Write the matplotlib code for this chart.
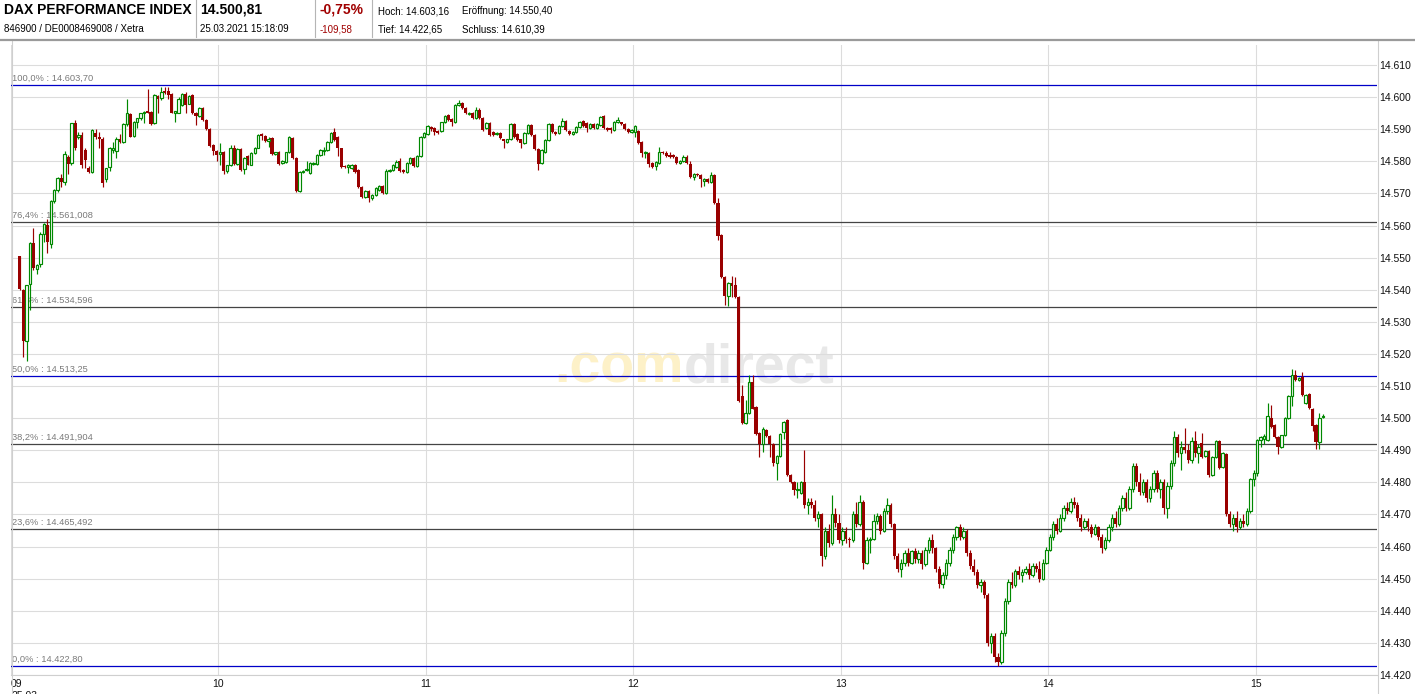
import numpy as np
import matplotlib
matplotlib.use("Agg")
import matplotlib.pyplot as plt
from matplotlib.lines import Line2D

plt.rcParams['font.family'] = ['Liberation Sans', 'DejaVu Sans']

W, H = 1415, 694
BASE = 14400          # values below are points above 14.400
FIRST_MINUTE = 2      # first 1-minute candle is 09:02

# 1-minute candles, 09:02 ... 15:19 (points above BASE)
opens = [
    150.4, 139.8, 124.1, 141.8, 154.7, 146.4, 147.9, 157.5, 160.2, 154.1,
    167.7, 171.1, 174.7, 173.7, 181.2, 179.4, 191.8, 187.5, 188.2, 183.5,
    177.8, 176.8, 188.7, 187.7, 186.8, 174.4, 178.1, 183.5, 183.3, 187.1,
    186.1, 191.6, 194.7, 187.9, 192.1, 193.4, 194.9, 195.7, 195.5, 191.8,
    200.4, 199.6, 202.0, 202.0, 201.0, 195.2, 195.2, 197.5, 201.0, 198.0,
    200.7, 195.0, 194.1, 196.5, 192.9, 190.0, 185.0, 183.2, 182.2, 182.8,
    177.0, 178.8, 184.2, 179.3, 183.8, 177.5, 181.7, 179.0, 182.5, 184.2,
    188.5, 188.0, 186.3, 187.4, 182.3, 182.8, 179.6, 179.9, 182.8, 187.2,
    181.1, 170.8, 176.6, 177.2, 176.5, 179.1, 179.2, 182.0, 183.1, 183.5,
    186.1, 189.2, 187.7, 184.0, 178.6, 178.1, 178.0, 178.8, 177.3, 172.1,
    169.0, 170.8, 168.7, 169.5, 171.2, 172.3, 170.2, 176.9, 177.3, 178.3,
    180.1, 177.3, 176.6, 179.4, 181.1, 178.5, 181.6, 187.5, 188.5, 190.8,
    190.3, 189.5, 189.5, 192.1, 194.4, 193.2, 192.3, 197.5, 198.1, 196.7,
    194.6, 195.2, 193.4, 196.0, 193.4, 190.3, 191.8, 189.2, 188.4, 188.9,
    186.8, 186.1, 186.8, 191.5, 188.4, 186.8, 185.6, 188.7, 191.3, 188.2,
    183.7, 179.4, 183.0, 186.6, 191.5, 189.2, 188.7, 191.1, 192.6, 189.4,
    188.4, 189.2, 190.8, 192.6, 191.8, 190.3, 191.5, 190.3, 191.3, 194.2,
    190.5, 190.3, 189.8, 192.3, 192.1, 191.5, 190.1, 189.2, 189.2, 189.5,
    186.1, 182.5, 182.5, 179.6, 178.5, 179.6, 183.0, 182.7, 182.0, 181.9,
    181.4, 179.6, 180.2, 181.4, 179.2, 175.2, 176.0, 175.7, 174.0, 174.4,
    173.7, 175.7, 167.1, 157.0, 144.1, 138.0, 142.0, 141.5, 137.8, 106.9,
    98.6, 101.7, 111.3, 103.5, 95.3, 92.0, 96.3, 94.4, 92.0, 86.1,
    88.2, 95.7, 99.4, 82.3, 80.0, 77.5, 76.8, 80.2, 73.0, 74.0,
    73.0, 69.0, 70.0, 57.0, 65.0, 61.0, 70.0, 67.5, 62.0, 65.0,
    62.5, 62.0, 70.0, 67.0, 74.0, 55.0, 62.0, 62.5, 68.0, 69.5,
    65.0, 71.0, 73.0, 67.0, 57.0, 53.0, 55.0, 58.0, 55.0, 58.5,
    56.0, 58.0, 54.5, 59.0, 62.0, 59.5, 53.0, 48.5, 51.0, 55.0,
    59.0, 63.0, 66.0, 63.0, 65.0, 58.0, 54.0, 52.0, 48.0, 49.0,
    45.0, 30.0, 32.0, 25.5, 24.0, 33.0, 43.0, 49.0, 48.0, 52.5,
    51.0, 52.0, 53.0, 51.0, 54.0, 53.0, 50.0, 55.0, 59.0, 63.0,
    67.0, 65.0, 69.0, 72.0, 71.0, 74.0, 73.0, 69.0, 66.0, 68.0,
    66.0, 64.0, 66.0, 63.0, 59.5, 62.0, 66.0, 69.0, 67.0, 72.0,
    75.0, 72.0, 78.0, 85.0, 80.0, 77.0, 80.0, 75.0, 78.0, 83.0,
    78.0, 80.0, 72.0, 79.0, 86.0, 94.0, 89.0, 91.0, 90.0, 87.0,
    93.0, 89.0, 92.3, 88.2, 89.9, 82.3, 88.0, 92.9, 84.8, 88.8,
    70.0, 67.0, 69.0, 66.0, 68.0, 67.0, 71.0, 81.0, 83.0, 93.2,
    93.5, 93.2, 100.1, 97.9, 94.2, 90.9, 94.6, 100.0, 106.9, 113.4,
    111.9, 112.9, 104.6, 107.5, 102.8, 97.9, 92.7, 100.3,
]
highs = [
    150.6, 140.2, 141.5, 155.0, 159.3, 148.0, 158.0, 160.8, 162.0, 168.0,
    171.5, 175.0, 176.0, 183.2, 182.0, 192.0, 192.9, 189.0, 189.0, 184.0,
    178.5, 190.0, 190.0, 189.2, 187.5, 178.0, 184.5, 186.0, 187.5, 188.5,
    192.0, 199.4, 195.0, 192.5, 193.6, 195.2, 195.6, 202.5, 195.8, 201.0,
    200.8, 203.0, 203.2, 203.0, 201.3, 195.7, 200.0, 201.2, 201.7, 200.6,
    201.0, 195.3, 196.8, 196.8, 193.2, 190.3, 185.3, 183.5, 185.6, 183.1,
    179.0, 185.0, 185.0, 184.0, 184.1, 181.3, 182.0, 182.8, 184.5, 188.5,
    188.8, 188.3, 187.5, 187.7, 183.0, 183.1, 180.4, 183.0, 187.8, 187.5,
    181.4, 176.9, 177.4, 180.0, 179.7, 179.9, 182.3, 183.8, 184.6, 186.4,
    189.0, 190.3, 188.0, 184.3, 178.9, 179.1, 179.3, 179.1, 177.6, 172.4,
    171.1, 171.1, 169.8, 171.9, 172.6, 172.6, 177.5, 177.7, 179.1, 180.4,
    181.0, 177.6, 179.7, 181.4, 181.4, 181.9, 187.8, 189.0, 191.4, 191.1,
    190.6, 189.8, 192.4, 194.5, 194.7, 193.5, 197.8, 199.1, 198.4, 197.0,
    195.4, 195.5, 197.0, 196.5, 193.7, 192.1, 192.1, 189.5, 189.2, 189.2,
    187.1, 187.1, 191.8, 191.8, 188.7, 187.1, 189.0, 191.6, 191.6, 188.5,
    184.0, 183.8, 186.9, 191.8, 191.8, 189.5, 191.4, 193.4, 192.9, 189.7,
    189.3, 191.1, 192.6, 192.9, 192.1, 191.8, 191.8, 191.9, 194.2, 194.5,
    190.8, 190.6, 192.6, 193.8, 192.4, 191.8, 190.4, 190.0, 191.4, 189.8,
    186.4, 183.2, 182.8, 179.9, 180.2, 184.6, 183.3, 183.3, 183.0, 182.2,
    181.7, 180.5, 181.9, 181.9, 180.0, 176.3, 176.3, 176.0, 174.7, 174.7,
    176.8, 176.0, 168.5, 157.3, 144.4, 142.3, 144.3, 144.0, 138.1, 110.3,
    105.6, 113.4, 113.4, 103.8, 95.6, 97.3, 96.6, 94.7, 92.3, 88.5,
    95.4, 99.2, 99.7, 82.6, 80.5, 80.0, 80.5, 90.0, 75.0, 75.0,
    74.5, 71.0, 70.5, 66.0, 67.0, 76.0, 72.0, 70.0, 66.0, 66.0,
    63.0, 71.0, 74.0, 76.0, 74.5, 63.0, 63.0, 70.0, 70.5, 70.0,
    72.0, 75.0, 73.5, 67.5, 58.0, 56.0, 59.0, 59.5, 59.0, 59.5,
    59.0, 59.0, 60.0, 63.0, 64.0, 60.0, 54.0, 52.0, 56.0, 60.0,
    64.0, 66.5, 67.0, 66.0, 65.5, 59.0, 56.0, 53.0, 50.0, 49.5,
    45.5, 33.0, 33.0, 27.0, 34.0, 44.0, 50.0, 52.0, 53.0, 54.0,
    53.0, 54.0, 55.0, 55.0, 55.0, 55.5, 56.0, 60.0, 64.0, 68.0,
    69.0, 70.0, 73.0, 74.0, 75.0, 75.5, 74.0, 70.0, 69.0, 69.0,
    67.0, 67.0, 66.5, 64.0, 63.0, 67.0, 70.0, 71.0, 73.0, 76.0,
    77.0, 79.0, 86.0, 86.0, 83.0, 81.0, 81.0, 79.0, 84.0, 84.0,
    81.0, 81.0, 80.0, 87.0, 96.0, 95.0, 93.0, 97.0, 92.0, 94.0,
    96.0, 92.0, 95.4, 90.2, 90.2, 88.2, 93.2, 93.2, 89.4, 89.1,
    71.0, 70.0, 71.0, 69.0, 70.0, 72.0, 81.5, 84.0, 93.5, 94.5,
    95.0, 104.8, 104.1, 98.2, 94.5, 94.9, 100.3, 107.2, 115.2, 115.0,
    112.9, 114.3, 107.5, 107.8, 103.1, 98.2, 101.7, 101.3,
]
lows = [
    140.0, 119.1, 117.9, 133.7, 146.0, 145.0, 147.0, 155.0, 151.3, 153.0,
    167.0, 170.5, 172.0, 172.6, 176.2, 179.0, 183.5, 187.0, 178.0, 178.0,
    176.5, 176.5, 187.0, 184.0, 172.0, 173.5, 177.0, 182.5, 181.0, 185.8,
    185.8, 191.0, 187.5, 187.5, 190.3, 193.0, 192.0, 195.0, 191.4, 191.5,
    195.0, 199.2, 201.0, 199.5, 195.0, 192.3, 195.0, 197.2, 195.0, 197.7,
    194.8, 191.3, 193.8, 192.6, 189.7, 184.6, 182.0, 180.0, 178.8, 176.0,
    176.3, 178.5, 179.0, 179.0, 177.0, 176.0, 178.7, 178.7, 182.2, 184.0,
    186.6, 186.0, 184.6, 182.0, 182.0, 178.9, 179.3, 179.6, 182.5, 180.8,
    170.5, 170.5, 176.3, 176.9, 176.2, 178.8, 178.9, 181.7, 181.9, 183.2,
    185.8, 186.3, 181.7, 177.8, 177.8, 176.5, 177.7, 176.5, 171.8, 168.5,
    168.7, 167.4, 168.0, 169.2, 170.9, 169.7, 169.9, 176.6, 177.0, 178.0,
    176.7, 176.3, 176.3, 179.1, 178.2, 178.2, 181.3, 187.2, 188.2, 189.3,
    188.2, 188.4, 189.2, 191.8, 192.6, 191.1, 192.0, 197.2, 196.2, 194.6,
    194.3, 193.1, 193.1, 193.1, 189.5, 190.0, 187.9, 187.9, 188.1, 187.1,
    184.2, 185.8, 186.5, 187.4, 186.3, 184.0, 185.3, 188.4, 187.9, 183.4,
    177.3, 179.1, 182.7, 186.3, 188.9, 188.2, 188.4, 190.8, 189.5, 188.1,
    188.1, 188.9, 190.5, 190.8, 189.0, 190.0, 190.0, 190.0, 191.0, 190.0,
    189.5, 188.7, 189.5, 192.0, 191.2, 189.8, 188.9, 188.9, 187.5, 185.5,
    181.4, 181.0, 178.3, 177.8, 177.3, 179.3, 182.2, 181.4, 180.9, 180.9,
    179.3, 179.3, 179.9, 179.3, 174.7, 174.2, 175.4, 172.1, 172.3, 173.4,
    173.4, 166.8, 155.5, 143.7, 135.2, 134.9, 137.8, 137.5, 105.1, 98.3,
    98.3, 101.4, 102.7, 94.8, 87.8, 89.6, 94.1, 87.8, 85.0, 80.7,
    87.9, 93.5, 82.0, 79.7, 76.0, 75.0, 76.5, 72.0, 70.0, 72.0,
    68.0, 66.0, 54.0, 56.0, 60.0, 60.5, 66.0, 61.0, 60.5, 61.0,
    60.0, 61.5, 66.0, 66.5, 53.0, 54.5, 58.0, 62.0, 67.0, 64.0,
    64.5, 70.0, 66.0, 56.0, 52.0, 50.5, 54.0, 54.0, 54.5, 55.0,
    55.0, 53.0, 54.0, 58.0, 58.0, 52.0, 47.0, 47.0, 50.0, 54.0,
    58.0, 62.0, 62.0, 62.5, 57.0, 53.0, 51.0, 47.0, 46.0, 44.0,
    29.0, 27.0, 24.0, 22.7, 23.5, 32.0, 42.0, 47.0, 47.5, 50.0,
    49.0, 51.5, 50.0, 50.5, 52.0, 49.0, 49.5, 54.5, 58.5, 62.0,
    64.0, 64.5, 68.0, 70.0, 70.5, 72.0, 68.0, 65.0, 65.5, 65.0,
    63.0, 63.5, 62.0, 58.0, 59.0, 61.5, 65.0, 66.0, 66.5, 71.0,
    71.0, 71.5, 77.0, 79.0, 76.0, 76.0, 74.0, 74.0, 77.0, 77.0,
    75.0, 70.0, 69.0, 78.0, 85.0, 88.0, 84.0, 89.0, 86.0, 86.0,
    88.0, 86.0, 87.5, 87.9, 81.8, 82.0, 87.7, 84.3, 84.5, 69.5,
    66.0, 65.0, 64.5, 65.5, 66.0, 66.5, 70.5, 79.0, 82.0, 91.0,
    92.0, 92.9, 97.0, 93.8, 88.8, 90.6, 94.3, 99.7, 103.8, 111.6,
    111.6, 106.9, 104.3, 102.8, 96.1, 90.4, 90.3, 100.0,
]
closes = [
    140.1, 124.1, 141.5, 154.7, 146.7, 147.7, 157.3, 160.5, 155.0, 167.7,
    171.1, 174.7, 173.7, 182.3, 179.2, 191.8, 184.0, 188.2, 178.8, 180.5,
    176.8, 189.7, 187.5, 187.1, 173.1, 177.8, 184.0, 184.0, 187.1, 186.1,
    191.6, 194.9, 187.7, 192.1, 193.4, 195.0, 195.5, 195.2, 191.6, 200.7,
    199.3, 201.5, 201.4, 200.7, 195.2, 195.5, 199.4, 201.0, 197.5, 200.4,
    195.0, 194.1, 196.5, 192.9, 190.0, 184.9, 183.2, 182.0, 182.8, 177.0,
    178.8, 184.2, 179.3, 183.8, 177.3, 181.1, 179.0, 182.5, 184.2, 188.2,
    188.0, 186.3, 186.8, 182.3, 182.8, 179.2, 180.1, 182.8, 187.5, 181.1,
    170.8, 176.6, 177.1, 177.6, 179.4, 179.6, 182.0, 183.5, 183.5, 186.1,
    188.7, 186.6, 184.0, 178.1, 178.1, 178.8, 179.0, 176.8, 172.1, 168.8,
    170.8, 168.5, 169.5, 171.6, 172.3, 170.0, 177.0, 177.4, 178.8, 179.9,
    177.0, 176.6, 179.4, 181.1, 178.5, 181.6, 187.5, 188.7, 191.1, 190.1,
    189.2, 188.7, 192.1, 194.2, 192.9, 192.3, 197.5, 198.1, 196.5, 194.9,
    195.1, 193.4, 196.0, 193.4, 189.8, 191.8, 188.2, 188.2, 188.9, 187.4,
    186.3, 186.8, 191.5, 187.7, 186.6, 185.6, 188.7, 191.3, 188.2, 183.7,
    179.2, 183.5, 186.6, 191.5, 189.2, 188.5, 191.1, 192.6, 189.8, 188.4,
    189.0, 190.8, 192.3, 191.1, 190.3, 191.5, 190.3, 191.6, 193.9, 190.3,
    189.8, 189.8, 192.3, 193.0, 191.5, 190.1, 189.2, 189.7, 191.1, 185.8,
    182.5, 182.9, 179.2, 178.1, 179.9, 183.0, 182.5, 181.7, 181.5, 181.2,
    179.6, 180.2, 181.4, 179.6, 175.0, 176.0, 175.7, 174.4, 174.4, 173.7,
    175.7, 167.1, 156.7, 144.1, 138.0, 142.0, 141.2, 137.8, 105.4, 98.6,
    101.7, 111.3, 103.0, 95.1, 92.0, 96.5, 94.4, 92.0, 86.1, 88.2,
    95.1, 98.9, 82.3, 80.0, 77.5, 78.0, 80.2, 73.0, 74.0, 73.0,
    69.0, 70.0, 57.0, 65.0, 61.0, 70.0, 67.5, 62.0, 65.0, 62.5,
    62.0, 70.0, 67.0, 74.0, 55.0, 62.0, 62.5, 68.0, 69.5, 65.0,
    71.0, 73.0, 67.0, 57.0, 53.0, 55.0, 58.0, 55.0, 58.5, 56.0,
    58.0, 54.5, 59.0, 62.0, 59.5, 53.0, 48.5, 51.0, 55.0, 59.0,
    63.0, 66.0, 63.0, 65.0, 58.0, 54.0, 52.0, 48.0, 49.0, 45.0,
    30.0, 32.0, 25.5, 24.0, 33.0, 43.0, 49.0, 48.0, 52.5, 51.0,
    52.0, 53.0, 51.0, 54.0, 53.0, 50.0, 55.0, 59.0, 63.0, 67.0,
    65.0, 69.0, 72.0, 71.0, 74.0, 73.0, 69.0, 66.0, 68.0, 66.0,
    64.0, 66.0, 63.0, 59.5, 62.0, 66.0, 69.0, 67.0, 72.0, 75.0,
    72.0, 78.0, 85.0, 80.0, 77.0, 80.0, 75.0, 78.0, 83.0, 78.0,
    80.0, 72.0, 79.0, 86.0, 94.0, 89.0, 91.0, 90.0, 87.0, 93.0,
    89.0, 91.0, 88.0, 89.9, 82.3, 87.9, 92.9, 84.6, 89.1, 70.0,
    67.0, 69.0, 66.0, 68.0, 67.0, 71.0, 81.0, 83.0, 93.2, 94.2,
    94.5, 100.7, 97.3, 94.1, 90.9, 94.6, 100.0, 106.9, 113.4, 111.9,
    112.5, 107.2, 107.2, 103.1, 97.7, 92.7, 99.9, 100.8,
]

hour_labels = ['09\n25.03', '10', '11', '12', '13', '14', '15']
fib_pct = ['100,0', '76,4', '61,8', '50,0', '38,2', '23,6', '0,0']
fib_levels = [14603.70, 14561.008, 14534.596, 14513.25, 14491.904, 14465.492, 14422.80]
fib_text = ['14.603,70', '14.561,008', '14.534,596', '14.513,25', '14.491,904', '14.465,492', '14.422,80']

assert len(opens) == len(highs) == len(lows) == len(closes)

RED = '#990000'
GREEN = '#008800'
GRID = '#dcdcdc'
FRAME = '#cfcfcf'

fig = plt.figure(figsize=(W / 100, H / 100), dpi=100)
fig.patch.set_facecolor('white')
ax = fig.add_axes([11 / W, (H - 675) / H, 1366 / W, 630 / H])

o = BASE + np.array(opens)
h = BASE + np.array(highs)
l = BASE + np.array(lows)
c = BASE + np.array(closes)
x = np.arange(len(o)) + FIRST_MINUTE + 0.5
up = c >= o
dn = ~up

# wicks, then bodies on top
ax.vlines(x[up], l[up], h[up], color=GREEN, lw=0.85, zorder=3)
ax.vlines(x[dn], l[dn], h[dn], color=RED, lw=0.85, zorder=3)
ax.bar(x[dn], np.maximum(o - c, 0.4)[dn], bottom=c[dn], width=0.9,
       color=RED, lw=0, zorder=4)
ax.bar(x[up], np.maximum(c - o, 0.4)[up], bottom=o[up], width=0.7,
       facecolor='white', edgecolor=GREEN, lw=0.85, zorder=4)

# fibonacci retracement lines
for pct, lev, txt in zip(fib_pct, fib_levels, fib_text):
    blue = pct in ('100,0', '50,0', '0,0')
    ax.axhline(lev, color='#0000c8' if blue else '#444444', lw=0.9, zorder=2)
    ax.text(0.3, lev + 0.7, f'{pct}% : {txt}', fontsize=6.7, color='#7a7a7a',
            ha='left', va='bottom', zorder=2)

# watermark
ax.text(194.5, 14515.5, '.com', fontsize=40, weight='bold', color='#fdf1c8',
        ha='right', va='center', zorder=0.3)
ax.text(194.5, 14515.5, 'direct', fontsize=40, weight='bold', color='#e8e8e8',
        ha='left', va='center', zorder=0.3)

ax.set_xlim(0, 1366 / 3.457)
ax.set_ylim(14420, 14420 + 630 / 3.2105)

ax.set_xticks(np.arange(0, 361, 60))
ax.set_xticklabels(hour_labels)
ax.get_xticklabels()[0].set_horizontalalignment('left')
ax.tick_params(axis='x', length=0, pad=3, labelsize=7.5, colors='#111111')

yt = np.arange(14420, 14611, 10)
ax.set_yticks(yt)
ax.set_yticklabels([f'{v // 1000}.{v % 1000:03d}' for v in yt])
ax.yaxis.tick_right()
ax.tick_params(axis='y', length=0, pad=1.5, labelsize=7.5, colors='#111111')

ax.grid(True, color=GRID, lw=0.8)
ax.set_axisbelow(True)
for s in ('top', 'left', 'right'):
    ax.spines[s].set_visible(False)
ax.spines['bottom'].set_color(FRAME)
ax.spines['bottom'].set_linewidth(0.8)

# frame verticals running from header line to bottom edge
for xp in (11.5, 1377.5):
    fig.add_artist(Line2D([xp / W, xp / W], [0, 1 - 41 / H], color=FRAME, lw=0.8))


def ftext(xp, yp, s, **kw):
    fig.text(xp / W, 1 - yp / H, s, ha='left', va='center', **kw)


# header
ftext(4, 10, 'DAX PERFORMANCE INDEX', fontsize=10, weight='bold')
ftext(4, 29, '846900 / DE0008469008 / Xetra', fontsize=7)
ftext(200, 10, '14.500,81', fontsize=10, weight='bold')
ftext(200, 29, '25.03.2021 15:18:09', fontsize=7)
ftext(320, 10, '-0,75%', fontsize=10, weight='bold', color='#a00000')
ftext(320, 29, '-109,58', fontsize=7, color='#a00000')
ftext(378, 11, 'Hoch: 14.603,16', fontsize=7)
ftext(462, 11, 'Eröffnung: 14.550,40', fontsize=7)
ftext(378, 29, 'Tief: 14.422,65', fontsize=7)
ftext(462, 29, 'Schluss: 14.610,39', fontsize=7)
for xp in (196, 315, 372):
    fig.add_artist(Line2D([xp / W, xp / W], [1, 1 - 37 / H], color='#b5b5b5', lw=0.8))
fig.add_artist(Line2D([0, 1], [1 - 40 / H, 1 - 40 / H], color='#9a9a9a', lw=1.6))

fig.savefig('out.png', dpi=100, facecolor='white')
